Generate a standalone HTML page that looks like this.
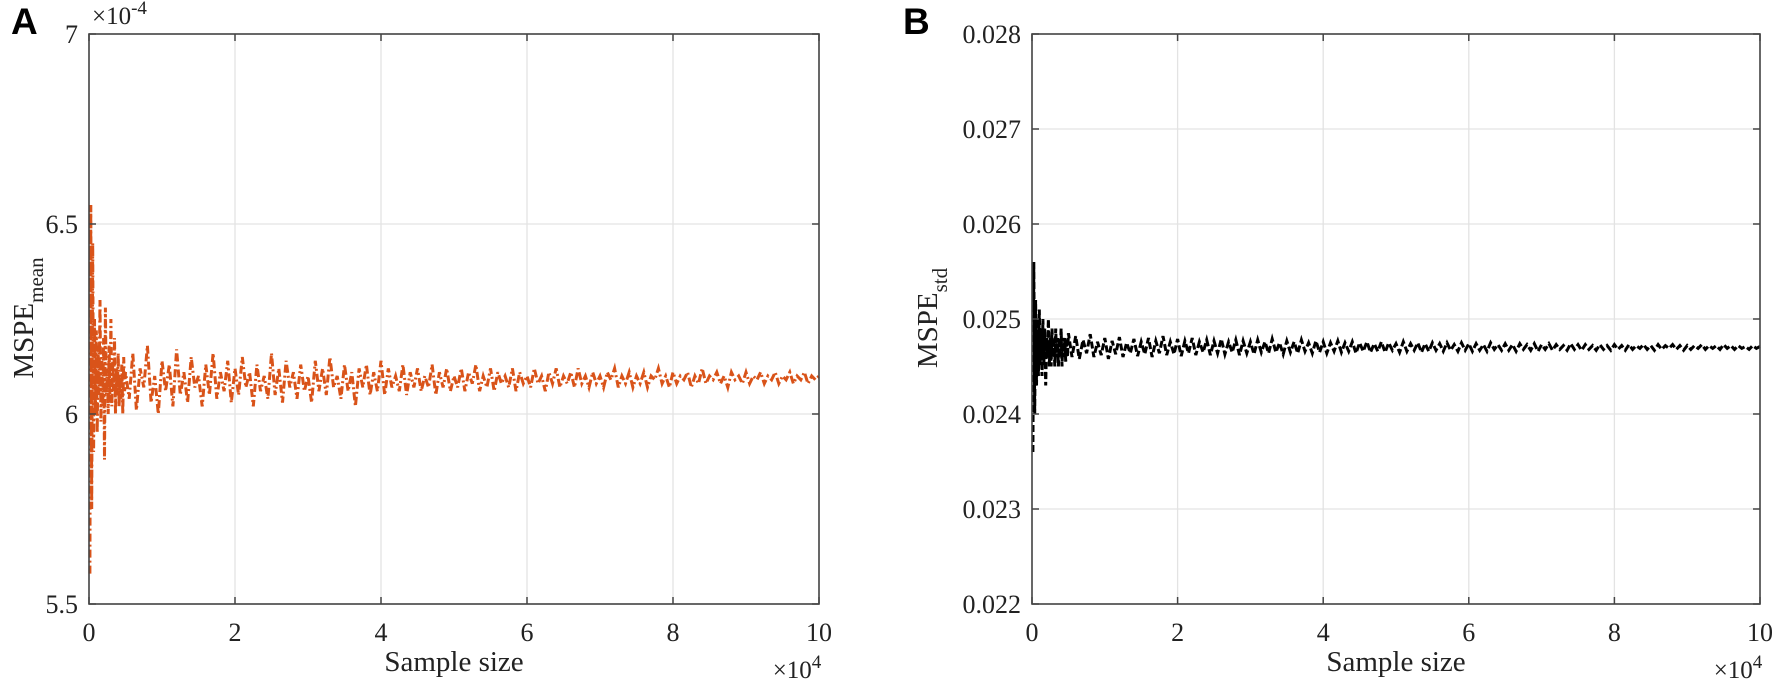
<!DOCTYPE html>
<html><head><meta charset="utf-8">
<style>
html,body{margin:0;padding:0;background:#fff;}
svg{display:block;font-family:"Liberation Serif",serif;}
.panel{font-family:"Liberation Sans",sans-serif;font-weight:bold;font-size:37px;}
</style></head>
<body>
<svg id="chart" width="1772" height="681" viewBox="0 0 1772 681" xmlns="http://www.w3.org/2000/svg"></svg>
<script>
// ---- data ----
const xEarlyStep = 125;   // samples 125..5000
const xLateStart = 5500;  // samples 5500..100000 step 500
const xLateStep = 500;
const xTicks = [0,2,4,6,8,10];          // ×10^4
const yTicksA = [5.5,6,6.5,7];          // ×10^-4
const yTickLabelsA = ["5.5","6","6.5","7"];
const yTicksB = [22,23,24,25,26,27,28]; // ×10^-3
const yTickLabelsB = ["0.022","0.023","0.024","0.025","0.026","0.027","0.028"];
const seriesAEarly = [5.58,6.55,5.75,6.45,5.9,6.25,6.0,6.22,5.95,6.18,6.05,6.3,5.98,6.15,6.02,6.2,5.88,6.28,6.05,6.12,6.0,6.18,6.03,6.25,6.02,6.14,6.06,6.2,6.0,6.12,6.05,6.16,6.02,6.1,6.04,6.13,6.0,6.15,6.06,6.11];
const seriesALate = [
6.04,6.16,6.01,6.12,6.07,6.18,6.03,6.1,6.0,6.14,
6.06,6.13,6.02,6.17,6.05,6.11,6.03,6.15,6.07,6.1,
6.02,6.13,6.05,6.16,6.04,6.11,6.06,6.14,6.03,6.12,
6.05,6.15,6.07,6.11,6.02,6.13,6.06,6.1,6.04,6.16,
6.05,6.12,6.03,6.14,6.07,6.11,6.04,6.13,6.06,6.1,
6.03,6.14,6.06,6.12,6.05,6.15,6.07,6.1,6.04,6.13,
6.06,6.11,6.02,6.12,6.07,6.13,6.05,6.11,6.06,6.14,
6.05,6.12,6.07,6.1,6.06,6.13,6.05,6.11,6.07,6.12,
6.06,6.1,6.07,6.13,6.05,6.11,6.07,6.12,6.06,6.1,
6.07,6.12,6.06,6.11,6.08,6.13,6.06,6.1,6.07,6.12,
6.06,6.11,6.08,6.1,6.07,6.12,6.06,6.11,6.08,6.1,
6.07,6.12,6.08,6.1,6.06,6.11,6.08,6.12,6.07,6.1,
6.08,6.11,6.07,6.12,6.08,6.1,6.07,6.11,6.08,6.1,
6.07,6.11,6.09,6.12,6.07,6.1,6.08,6.11,6.07,6.1,
6.08,6.11,6.07,6.1,6.09,6.12,6.08,6.1,6.07,6.11,
6.08,6.1,6.09,6.11,6.07,6.1,6.08,6.12,6.08,6.1,
6.09,6.11,6.08,6.1,6.07,6.11,6.09,6.1,6.08,6.11,
6.08,6.1,6.09,6.11,6.08,6.1,6.09,6.11,6.08,6.1,
6.09,6.11,6.08,6.1,6.09,6.11,6.08,6.1,6.09,6.1];
const seriesBEarly = [23.6,25.6,24.0,25.2,24.3,25.0,24.4,25.1,24.5,24.9,24.4,25.0,24.5,24.9,24.3,24.8,24.6,25.0,24.5,24.8,24.5,24.9,24.6,24.8,24.5,24.9,24.6,24.8,24.5,24.8,24.6,24.9,24.5,24.8,24.6,24.8,24.55,24.8,24.6,24.85];
const seriesBLate = [
24.6,24.82,24.58,24.78,24.64,24.84,24.6,24.76,24.62,24.8,
24.58,24.77,24.63,24.81,24.6,24.75,24.64,24.79,24.61,24.76,
24.63,24.8,24.6,24.77,24.64,24.82,24.62,24.76,24.63,24.79,
24.61,24.77,24.64,24.8,24.62,24.76,24.65,24.78,24.62,24.77,
24.64,24.79,24.63,24.76,24.65,24.78,24.62,24.77,24.64,24.76,
24.63,24.78,24.65,24.76,24.64,24.79,24.65,24.75,24.63,24.77,
24.65,24.76,24.64,24.78,24.66,24.75,24.64,24.77,24.65,24.76,
24.64,24.75,24.66,24.77,24.65,24.75,24.66,24.76,24.64,24.75,
24.66,24.76,24.65,24.74,24.66,24.76,24.65,24.75,24.67,24.74,
24.65,24.76,24.66,24.74,24.67,24.75,24.65,24.74,24.66,24.75,
24.67,24.74,24.66,24.75,24.67,24.73,24.66,24.75,24.67,24.74,
24.66,24.74,24.67,24.73,24.66,24.75,24.68,24.73,24.67,24.74,
24.67,24.73,24.66,24.74,24.68,24.73,24.67,24.74,24.66,24.73,
24.68,24.74,24.67,24.73,24.68,24.72,24.67,24.74,24.68,24.73,
24.67,24.73,24.68,24.72,24.67,24.73,24.68,24.72,24.67,24.73,
24.68,24.72,24.67,24.73,24.68,24.72,24.69,24.73,24.68,24.72,
24.67,24.73,24.68,24.72,24.69,24.73,24.68,24.72,24.67,24.72,
24.68,24.72,24.69,24.73,24.68,24.72,24.69,24.72,24.68,24.73,
24.69,24.72,24.68,24.72,24.69,24.71,24.68,24.72,24.69,24.71];

const NS = "http://www.w3.org/2000/svg";
const svg = document.getElementById("chart");
function mk(tag, attrs, parent, text){
  const e = document.createElementNS(NS, tag);
  for (const k in attrs) e.setAttribute(k, attrs[k]);
  if (text !== undefined) e.textContent = text;
  (parent||svg).appendChild(e);
  return e;
}
function points(early, late){
  const pts = [];
  early.forEach((v,i)=>pts.push([(i+1)*xEarlyStep, v]));
  late.forEach((v,i)=>pts.push([xLateStart + i*xLateStep, v]));
  return pts;
}

function drawPanel(o){
  const g = mk("g", {});
  
  
  const L=o.left, R=o.right, T=34, B=604;
  const xS = v => L + (v/100000)*(R-L);
  const yS = v => B - (v-o.ymin)/(o.ymax-o.ymin)*(B-T);
  xTicks.forEach(t=>{
    const x = xS(t*10000);
    const gl = mk("line",{x1:x,x2:x,y1:T,y2:B,stroke:"#e3e3e3","stroke-width":1.3},g);
    
    
  });
  o.yticks.forEach(t=>{
    const y = yS(t);
    const gl = mk("line",{x1:L,x2:R,y1:y,y2:y,stroke:"#e3e3e3","stroke-width":1.3},g);
    
    
  });
  const pts = points(o.early, o.late);
  const d = pts.map((p,i)=>(i?"L":"M")+xS(p[0]).toFixed(1)+","+yS(p[1]).toFixed(1)).join("");
  const line = mk("path",{d:d,fill:"none",stroke:o.color,"stroke-width":3,"stroke-dasharray":o.dash,"stroke-linejoin":"miter"},g);
  
  
  const box = mk("rect",{x:L,y:T,width:R-L,height:B-T,fill:"none",stroke:"#444","stroke-width":1.6},g);
  
  
  xTicks.forEach((t,i)=>{
    const x = xS(t*10000);
    mk("line",{x1:x,x2:x,y1:B,y2:B-7,stroke:"#444","stroke-width":1.5},g);
    mk("line",{x1:x,x2:x,y1:T,y2:T+7,stroke:"#444","stroke-width":1.5},g);
    const lb = mk("text",{x:x,y:641,"text-anchor":"middle","font-size":26,fill:"#222"},g,String(t));
    
    
  });
  o.yticks.forEach((t,i)=>{
    const y = yS(t);
    mk("line",{x1:L,x2:L+7,y1:y,y2:y,stroke:"#444","stroke-width":1.5},g);
    mk("line",{x1:R,x2:R-7,y1:y,y2:y,stroke:"#444","stroke-width":1.5},g);
    const lb = mk("text",{x:L-11,y:y+9,"text-anchor":"end","font-size":26,fill:"#222"},g,o.ylabels[i]);
    
    
  });
  const xt = mk("text",{x:(L+R)/2,y:671,"text-anchor":"middle","font-size":29,fill:"#222"},g,"Sample size");
  
  
  const xe = mk("text",{x:R-22,y:678,"text-anchor":"middle","font-size":25,fill:"#222"},g);
  
  
  mk("tspan",{},xe,"\u00d710");
  mk("tspan",{dy:-10,"font-size":19},xe,"4");
  const cy = 318;
  const yt = mk("text",{transform:`translate(${o.ytx},${cy}) rotate(-90)`,"text-anchor":"middle","font-size":29,fill:"#222"},g);
  
  
  mk("tspan",{},yt,"MSPE");
  mk("tspan",{dy:10,"font-size":21},yt,o.ysub);
  const pl = mk("text",{x:o.letterX,y:34,"class":"panel",fill:"#000"},g,o.letter);
  
  
  return {g, L, T};
}

drawPanel({name:"panel-a",left:89,right:819,ymin:5.5,ymax:7,yticks:yTicksA,ylabels:yTickLabelsA,
  early:seriesAEarly,late:seriesALate,color:"#D95319",dash:"8 3 2 3",seriesName:"mspe-mean-line",
  ytx:33,ysub:"mean",letter:"A",letterX:11});
const ye = mk("text",{x:92,y:24,"font-size":25,fill:"#222"});


mk("tspan",{},ye,"\u00d710");
mk("tspan",{dy:-10,"font-size":19},ye,"-4");

drawPanel({name:"panel-b",left:1032,right:1760,ymin:22,ymax:28,yticks:yTicksB,ylabels:yTickLabelsB,
  early:seriesBEarly,late:seriesBLate,color:"#000",dash:"7 3",seriesName:"mspe-std-line",
  ytx:937,ysub:"std",letter:"B",letterX:903});
</script>
</body></html>
